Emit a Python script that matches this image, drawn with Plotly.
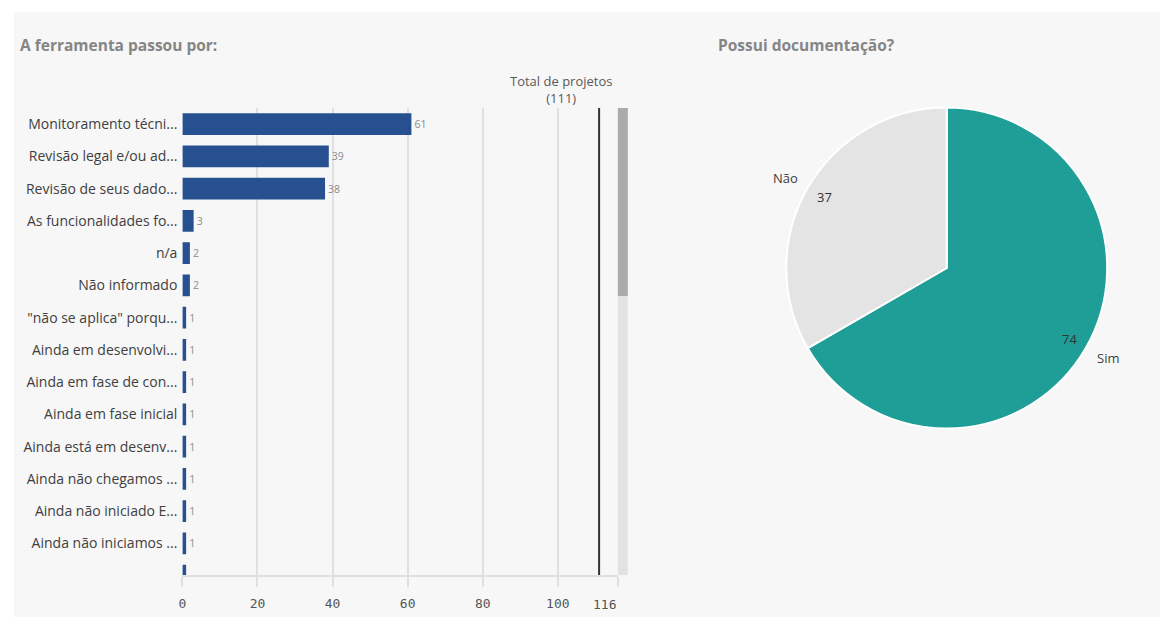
import math
import plotly.graph_objects as go

# ---- data ----
categorias = [
    "Monitoramento técni...",
    "Revisão legal e/ou ad...",
    "Revisão de seus dado...",
    "As funcionalidades fo...",
    "n/a",
    "Não informado",
    "\"não se aplica\" porqu...",
    "Ainda em desenvolvi...",
    "Ainda em fase de con...",
    "Ainda em fase inicial",
    "Ainda está em desenv...",
    "Ainda não chegamos ...",
    "Ainda não iniciado E...",
    "Ainda não iniciamos ...",
    "Ainda não passou ...",
]
contagens = [61, 39, 38, 3, 2, 2, 1, 1, 1, 1, 1, 1, 1, 1, 1]
total_projetos = 111
eixo_x_ticks = [0, 20, 40, 60, 80, 100, 116]

doc_labels = ["Sim", "Não"]
doc_values = [74, 37]

W, H = 1160, 618
BAR = "#26508f"
GRID = "#e0e0e0"
TXT = "#404040"
TITLE = "#858585"
SANS = "'Open Sans', Lato, sans-serif"
MONO = "'DejaVu Sans Mono', monospace"


def px(x):
    return x / W


def py(y):
    return 1 - y / H


fig = go.Figure()

# rows visible in the scroll window (the last one is cut by the axis)
n_labeled = 14
bar_text = [str(v) if i < n_labeled else "" for i, v in enumerate(contagens)]

fig.add_trace(go.Bar(
    x=contagens,
    y=categorias,
    orientation="h",
    marker=dict(color=BAR, line=dict(width=0)),
    text=bar_text,
    textposition="outside",
    textfont=dict(family=SANS, size=10.5, color="#8c8c8c"),
    cliponaxis=True,
    hoverinfo="skip",
    showlegend=False,
))

# pie geometry
cx, cy, r = 946, 268, 161
fig.add_trace(go.Pie(
    labels=doc_labels,
    values=doc_values,
    sort=False,
    direction="clockwise",
    rotation=0,
    marker=dict(colors=["#1e9e96", "#e4e4e4"], line=dict(color="#ffffff", width=2)),
    textinfo="none",
    hoverinfo="skip",
    showlegend=False,
    domain=dict(x=[px(cx - r), px(cx + r)], y=[py(cy + r), py(cy - r)]),
))

fig.update_layout(
    width=W, height=H,
    margin=dict(l=0, r=0, t=0, b=0),
    paper_bgcolor="#ffffff",
    plot_bgcolor="rgba(0,0,0,0)",
    bargap=0.33,
    font=dict(family=SANS, color=TXT),
    xaxis=dict(
        domain=[px(179), px(616)],
        range=[0, 116],
        tickvals=eixo_x_ticks,
        ticktext=[str(t) if t != 116 else "" for t in eixo_x_ticks],
        showgrid=True, gridcolor=GRID, gridwidth=1.5,
        zeroline=False,
        showline=True, linecolor=GRID, linewidth=1.5,
        ticks="outside", ticklen=10, tickcolor=GRID, tickwidth=1.5,
        tickfont=dict(family=MONO, size=13, color="#555555"),
        ticklabelstandoff=6,
        fixedrange=True,
    ),
    yaxis=dict(
        domain=[py(575), py(108)],
        type="category",
        categoryorder="array",
        categoryarray=categorias,
        range=[13.98, -0.5],
        tickvals=categorias[:n_labeled],
        tickfont=dict(family=SANS, size=14, color=TXT),
        showgrid=False, zeroline=False, showline=False,
        ticks="", ticklabelstandoff=4,
        fixedrange=True,
    ),
)

shapes = [
    # panel background
    dict(type="rect", xref="paper", yref="paper", x0=px(10), x1=1, y0=py(617), y1=py(12),
         fillcolor="#f7f7f7", line=dict(width=0), layer="below"),
    # total reference line
    dict(type="line", xref="x", yref="paper", x0=total_projetos, x1=total_projetos,
         y0=py(575), y1=py(108), line=dict(color="#333333", width=2)),
    # scrollbar track and thumb
    dict(type="rect", xref="paper", yref="paper", x0=px(616), x1=px(626),
         y0=py(575), y1=py(108), fillcolor="#e2e2e2", line=dict(width=0)),
    dict(type="rect", xref="paper", yref="paper", x0=px(616), x1=px(626),
         y0=py(296), y1=py(108), fillcolor="#ababab", line=dict(width=0)),
]
fig.update_layout(shapes=shapes)

annotations = [
    dict(text="<b>A ferramenta passou por:</b>", xref="paper", yref="paper",
         x=px(14), y=py(45), xanchor="left", yanchor="middle", showarrow=False,
         font=dict(family=SANS, size=15.5, color=TITLE)),
    dict(text="<b>Possui documentação?</b>", xref="paper", yref="paper",
         x=px(714), y=py(45), xanchor="left", yanchor="middle", showarrow=False,
         font=dict(family=SANS, size=15.5, color=TITLE)),
    dict(text=f"Total de projetos<br>({total_projetos})", xref="x", yref="paper",
         x=total_projetos, xshift=-38, y=py(89), xanchor="center", yanchor="middle",
         showarrow=False, align="center",
         font=dict(family=SANS, size=13, color="#595959")),
    dict(text=str(eixo_x_ticks[-1]), xref="x", yref="paper", x=eixo_x_ticks[-1], xshift=-13,
         y=py(604), xanchor="center", yanchor="middle", showarrow=False,
         font=dict(family=MONO, size=13, color="#555555")),
]

# pie labels: value inside the slice, category name just outside
total = sum(doc_values)
start = 0.0
for lab, val in zip(doc_labels, doc_values):
    mid = (start + val / 2) / total * 2 * math.pi
    start += val
    dx, dy = math.sin(mid), math.cos(mid)
    vx, vy = cx + 0.88 * r * dx, cy - 0.88 * r * dy
    lx, ly = cx + 1.16 * r * dx, cy - 1.12 * r * dy
    annotations.append(dict(text=str(val), xref="paper", yref="paper", x=px(vx), y=py(vy),
                            xanchor="center", yanchor="middle", showarrow=False,
                            font=dict(family=SANS, size=13, color="#333333")))
    annotations.append(dict(text=lab, xref="paper", yref="paper", x=px(lx), y=py(ly),
                            xanchor="center", yanchor="middle", showarrow=False,
                            font=dict(family=SANS, size=13, color="#404040")))

fig.update_layout(annotations=annotations)

fig.write_html("out.html")
